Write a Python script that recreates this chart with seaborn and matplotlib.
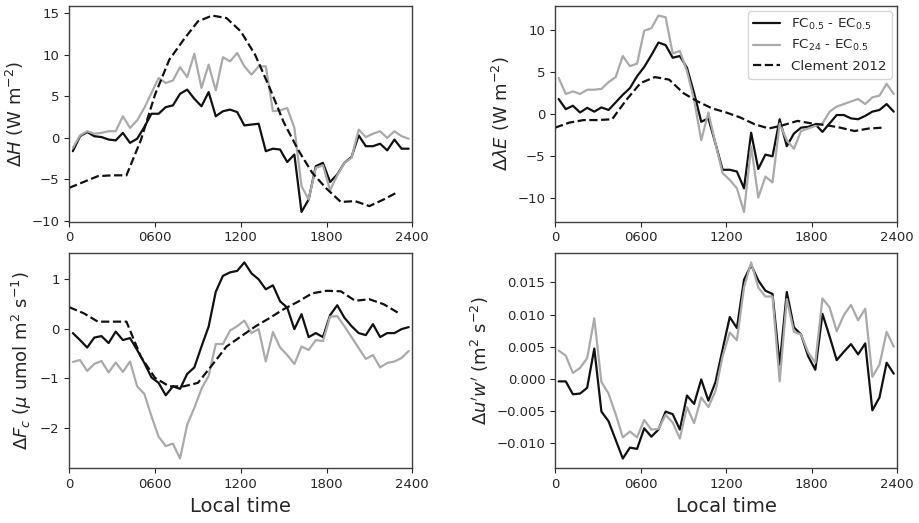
import numpy as np
import pandas as pd
import matplotlib
matplotlib.use("Agg")
import matplotlib.pyplot as plt
import seaborn as sns

# time axes (local time, HHMM-like linear units)
time_half = np.arange(25, 2400, 50)     # half-hourly series
time_hour = np.arange(0, 2400, 100)     # hourly Clement 2012 series
xticks = [0, 600, 1200, 1800, 2400]
xtick_labels = ["0", "0600", "1200", "1800", "2400"]

# Panel 1: Delta H
H_fc05 = [-1.6, 0.2, 0.7, 0.2, 0.1, -0.2, -0.3, 0.6, -0.6, -0.1,
          1.3, 2.9, 2.9, 3.7, 3.9, 5.3, 5.8, 4.7, 3.8, 5.5,
          2.6, 3.2, 3.4, 3.1, 1.5, 1.6, 1.7, -1.6, -1.3, -1.4,
          -2.9, -2.0, -8.9, -7.4, -3.4, -3.0, -5.3, -4.4, -3.0, -2.3,
          0.3, -1.0, -1.0, -0.7, -1.5, -0.2, -1.3, -1.3]
H_fc24 = [-1.2, 0.3, 0.8, 0.5, 0.6, 0.8, 0.8, 2.6, 1.2, 2.1,
          3.6, 5.4, 7.2, 6.6, 6.9, 8.5, 7.3, 10.1, 6.0, 8.8,
          5.7, 9.7, 9.2, 10.2, 8.6, 7.6, 8.6, 8.6, 3.2, 3.3,
          3.6, 1.2, -5.8, -7.4, -3.6, -3.3, -6.3, -4.5, -3.0, -2.4,
          1.0, 0.1, 0.5, 0.8, 0.0, 0.8, 0.2, -0.1]
H_clement = [-6.0, -5.3, -4.6, -4.5, -4.5, -0.3, 5.2, 9.4, 11.8, 14.0, 14.7, 14.4,
             12.8, 10.0, 6.1, 1.9, -1.4, -4.2, -6.1, -7.7, -7.6, -8.2, -7.4, -6.5]

# Panel 2: Delta lambda E
LE_fc05 = [1.8, 0.6, 1.0, 0.2, 0.75, 0.3, 0.8, 0.5, 1.4, 2.3,
           3.1, 4.5, 5.6, 7.0, 8.5, 8.2, 6.7, 6.9, 5.5, 2.5,
           -0.9, -0.5, -3.5, -6.6,
           -6.6, -6.8, -8.8, -2.2, -6.5, -4.8, -5.0, -0.6, -3.8, -2.3,
           -1.6, -1.5, -1.2, -2.1, -1.1, -0.1, -0.1, -0.5, -0.6, -0.2,
           0.3, 0.5, 1.2, 0.3]
LE_fc24 = [4.3, 2.4, 2.7, 2.4, 2.9, 2.9, 3.0, 3.8, 4.4, 6.9,
           5.7, 6.0, 9.9, 10.2, 11.7, 11.5, 7.2, 7.5, 5.1, 1.7,
           -3.1, 0.2, -3.5, -7.0,
           -7.8, -8.8, -11.6, -3.8, -9.9, -7.4, -8.1,
           -1.1, -3.1, -4.1, -2.0, -1.7, -1.4, -1.1, 0.3, 0.9, 1.2,
           1.5, 1.8, 1.2, 2.0, 2.2, 3.6, 2.4]
LE_clement = [-1.6, -1.0, -0.7, -0.7, -0.6, 1.7, 3.7, 4.4, 4.1, 2.5, 1.5, 0.7,
              0.2, -0.4, -1.2, -1.7, -1.3, -0.8, -1.1, -1.3, -1.6, -2.0, -1.7, -1.6]

# Panel 3: Delta Fc
Fc_fc05 = [-0.09, -0.23, -0.38, -0.18, -0.15, -0.29, -0.06, -0.23, -0.19, -0.43,
           -0.69, -0.98, -1.09, -1.34, -1.16, -1.21, -0.91, -0.78, -0.36, 0.04,
           0.74, 1.06, 1.13, 1.16, 1.33,
           1.11, 0.99, 0.79, 0.87, 0.55, 0.42, -0.01, 0.29, -0.17, -0.09,
           -0.17, 0.27, 0.47, 0.22, 0.05, -0.09, -0.13, 0.09, -0.17, -0.09,
           -0.09, -0.01, 0.03]
Fc_fc24 = [-0.67, -0.63, -0.85, -0.71, -0.65, -0.88, -0.68, -0.87, -0.66, -1.16,
           -1.31, -1.76, -2.17, -2.36, -2.31, -2.61, -1.93, -1.59, -1.21, -0.95,
           -0.31, -0.31, -0.04, 0.05, 0.16,
           -0.09, -0.01, -0.66, -0.07, -0.38, -0.53, -0.71, -0.36, -0.43, -0.23,
           -0.25, 0.24, 0.25, 0.05, -0.17, -0.39, -0.61, -0.53, -0.78, -0.69,
           -0.66, -0.59, -0.45]
Fc_clement = [0.43, 0.31, 0.14, 0.14, 0.14, -0.56, -0.99, -1.16, -1.16, -1.09, -0.73, -0.36,
              -0.16, 0.04, 0.21, 0.39, 0.54, 0.71, 0.76, 0.75, 0.56, 0.59, 0.49, 0.32]

# Panel 4: Delta u'w'
uw_fc05 = [-0.0004, -0.0004, -0.0024, -0.0023, -0.0014, 0.0047, -0.0051, -0.0066, -0.0095, -0.0124,
           -0.0107, -0.0109, -0.0077, -0.0090, -0.0079, -0.0051, -0.0055, -0.0079, -0.0026, -0.0039,
           -0.0001, -0.0034, -0.0005, 0.0046, 0.0096,
           0.0079, 0.0154, 0.0177, 0.0153, 0.0137, 0.0132, 0.0022, 0.0135, 0.0080, 0.0069,
           0.0035, 0.0014, 0.0101, 0.0066, 0.0029, 0.0042, 0.0054, 0.0038, 0.0055, -0.0049,
           -0.0029, 0.0025, 0.0008]
uw_fc24 = [0.0044, 0.0036, 0.0009, 0.0017, 0.0032, 0.0094, -0.0005, -0.0023, -0.0055, -0.0091,
           -0.0082, -0.0091, -0.0064, -0.0079, -0.0078, -0.0056, -0.0068, -0.0093, -0.0044, -0.0069,
           -0.0029, -0.0044, -0.0019, 0.0035, 0.0072,
           0.0060, 0.0142, 0.0181, 0.0142, 0.0128, 0.0128, -0.0004, 0.0124, 0.0073, 0.0069,
           0.0041, 0.0025, 0.0125, 0.0111, 0.0074, 0.0099, 0.0115, 0.0091, 0.0109, 0.0003,
           0.0022, 0.0073, 0.0050]

series_labels = [r"FC$_{0.5}$ - EC$_{0.5}$", r"FC$_{24}$ - EC$_{0.5}$", "Clement 2012"]
ylabels = [r"$\Delta H$ (W m$^{-2}$)", r"$\Delta\lambda E$ (W m$^{-2}$)",
           r"$\Delta F_c$ ($\mu$ umol m$^2$ s$^{-1}$)", r"$\Delta u'w'$ (m$^2$ s$^{-2}$)"]

sns.set_style("ticks")
plt.rcParams["font.family"] = ["DejaVu Sans"]

fig = plt.figure(figsize=(9.19, 5.23), dpi=100)
positions = [
    [0.0754, 0.576, 0.3732, 0.413],
    [0.6040, 0.576, 0.3724, 0.413],
    [0.0754, 0.1045, 0.3732, 0.4125],
    [0.6040, 0.1045, 0.3724, 0.4125],
]
axes = [fig.add_axes(p) for p in positions]

panels = [
    (H_fc05, H_fc24, H_clement),
    (LE_fc05, LE_fc24, LE_clement),
    (Fc_fc05, Fc_fc24, Fc_clement),
    (uw_fc05, uw_fc24, None),
]

black = "#111111"
gray = "#aaaaaa"
for k, (ax, (s1, s2, s3)) in enumerate(zip(axes, panels)):
    sns.lineplot(x=time_half, y=s1, ax=ax, color=black, lw=1.6, label=series_labels[0])
    sns.lineplot(x=time_half, y=s2, ax=ax, color=gray, lw=1.6, label=series_labels[1])
    if s3 is not None:
        sns.lineplot(x=time_hour, y=s3, ax=ax, color=black, lw=1.6, ls="--",
                     label=series_labels[2])
    ax.set_xlim(0, 2400)
    ax.set_xticks(xticks)
    ax.set_xticklabels(xtick_labels)
    ax.tick_params(labelsize=9.5, colors="#262626")
    ax.set_ylabel(ylabels[k], fontsize=13)
    for sp in ax.spines.values():
        sp.set_color("#404040")
        sp.set_linewidth(1.0)
    if k >= 2:
        ax.set_xlabel("Local time", fontsize=14)
    else:
        ax.set_xlabel("")
    if k == 1:
        leg = ax.legend(loc="upper right", fontsize=9.7, frameon=True,
                        handlelength=2.0, borderaxespad=0.4)
    else:
        lg = ax.get_legend()
        if lg is not None:
            lg.remove()

fig.savefig("out.png", dpi=100)
